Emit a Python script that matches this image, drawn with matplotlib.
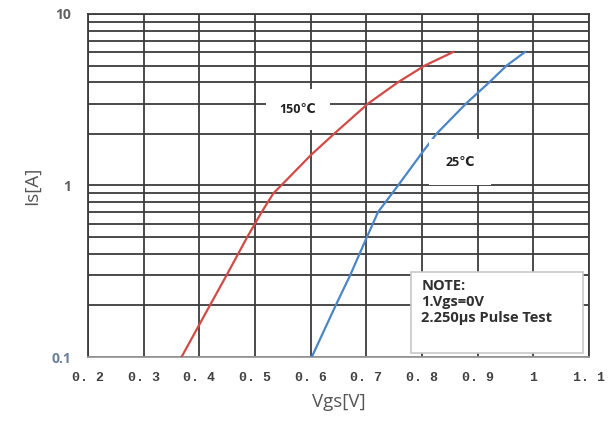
import numpy as np
import matplotlib.pyplot as plt
from matplotlib.ticker import LogLocator, NullFormatter, FixedLocator
from matplotlib.patches import Rectangle

# 150 degC curve
vgs_150 = [0.368, 0.419, 0.449, 0.486, 0.512, 0.533, 0.547, 0.60, 0.642, 0.703,
           0.757, 0.805, 0.856]
is_150 = [0.1, 0.2, 0.3, 0.5, 0.7, 0.9, 1.0, 1.5, 2.0, 3.0, 4.0, 5.0, 6.0]

# 25 degC curve
vgs_25 = [0.602, 0.645, 0.671, 0.701, 0.721, 0.757, 0.80, 0.826, 0.879, 0.921,
          0.952, 0.985]
is_25 = [0.1, 0.2, 0.3, 0.5, 0.7, 1.0, 1.55, 2.0, 3.0, 4.0, 5.0, 6.0]

xticks = [0.2, 0.3, 0.4, 0.5, 0.6, 0.7, 0.8, 0.9, 1.0, 1.1]
xticklabels = ['0. 2', '0. 3', '0. 4', '0. 5', '0. 6', '0. 7', '0. 8', '0. 9', '1', '1. 1']
yticks = [0.1, 1, 10]
yticklabels = ['0.1', '1', '10']

fig = plt.figure(figsize=(6.12, 4.23), dpi=100)
ax = fig.add_axes([0.1438, 0.156, 0.8186, 0.811])

ax.set_yscale('log')
ax.set_xlim(0.2, 1.1)
ax.set_ylim(0.1, 10)

ax.yaxis.set_minor_locator(LogLocator(base=10, subs=np.arange(2, 10)))
ax.yaxis.set_minor_formatter(NullFormatter())
ax.xaxis.set_major_locator(FixedLocator(xticks))
ax.yaxis.set_major_locator(FixedLocator(yticks))
ax.set_xticklabels(xticklabels, family='Liberation Mono', fontweight='bold',
                   fontsize=9.5, color='#404040')
ax.set_yticklabels(yticklabels, family='Open Sans', fontweight='bold',
                   fontsize=10, color='#606060')
ax.get_yticklabels()[0].set_color('#6a7f98')
ax.tick_params(which='both', length=0)
ax.tick_params(axis='x', pad=11)
ax.tick_params(axis='y', pad=12)

ax.grid(True, which='both', color='#3c3c3c', lw=1.3)
ax.set_axisbelow(True)
for s in ax.spines.values():
    s.set_color('#3c3c3c')
    s.set_linewidth(1.3)
ax.spines['bottom'].set_color('#9a9a9a')

ax.plot(vgs_150, is_150, color='#d24a45', lw=1.6, zorder=3)
ax.plot(vgs_25, is_25, color='#4a86c8', lw=1.6, zorder=3)

ax.text(0.577, 2.76, '150℃', ha='center', va='center', fontsize=9,
        fontweight='bold', family=['Open Sans', 'DejaVu Sans'], color='#202020',
        bbox=dict(facecolor='white', edgecolor='none', pad=10), zorder=4)
ax.text(0.868, 1.37, '25℃', ha='center', va='center', fontsize=9,
        fontweight='bold', family=['Open Sans', 'DejaVu Sans'], color='#202020',
        bbox=dict(facecolor='white', edgecolor='none', pad=12), zorder=4)

# note box
ax.add_patch(Rectangle((0.645, 0.012), 0.343, 0.236, transform=ax.transAxes,
                       facecolor='white', edgecolor='#c8c8c8', lw=1.2, zorder=5))
ax.text(0.665, 0.228, 'NOTE:\n1.Vgs=0V\n2.250μs Pulse Test', transform=ax.transAxes,
        ha='left', va='top', fontsize=10.5, fontweight='bold', color='#303030',
        family='Open Sans', linespacing=1.2, zorder=6)

ax.set_xlabel('Vgs[V]', family='Open Sans', fontsize=13.5, color='#555555', labelpad=6)
ax.set_ylabel('Is[A]', family='Open Sans', fontsize=13.5, color='#555555', labelpad=8)

plt.savefig('out.png', dpi=100)
